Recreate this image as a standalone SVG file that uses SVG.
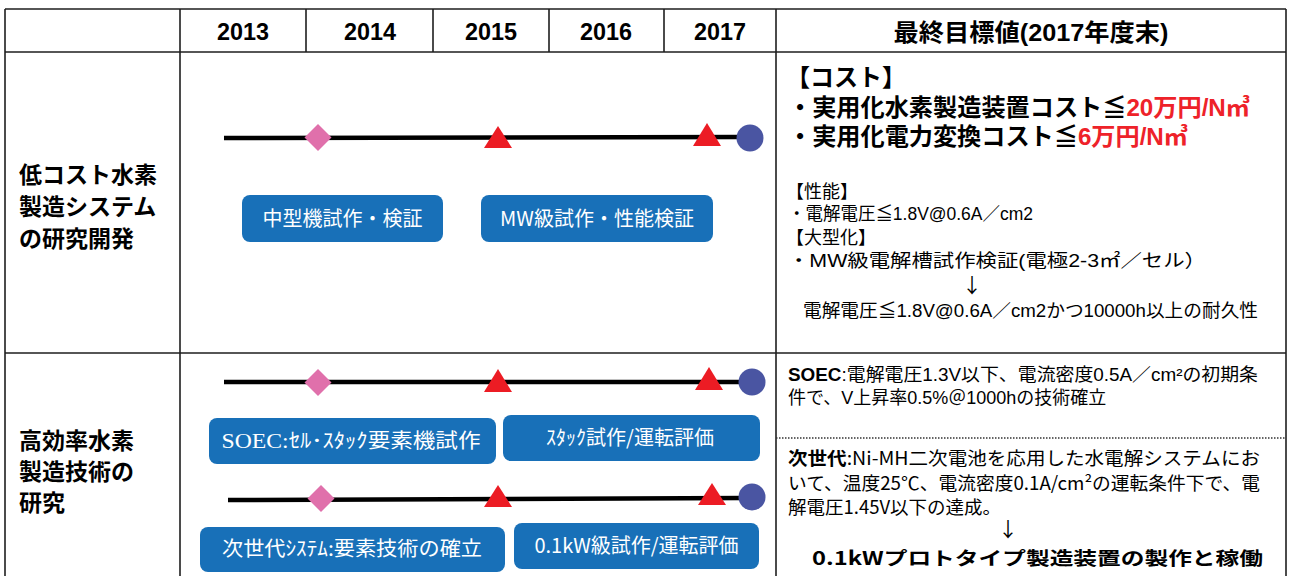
<svg xmlns="http://www.w3.org/2000/svg" width="1290" height="576" viewBox="0 0 1290 576">
  <defs>
    <style>
      .grid { stroke: #1e1e1e; stroke-width: 1.6; fill: none; }
      .hdr { font-family: "Liberation Sans", "Noto Sans CJK JP", sans-serif; font-weight: bold; font-size: 24px; fill: #000; text-anchor: middle; }
      .rowlbl { font-family: "Noto Sans CJK JP", sans-serif; font-weight: bold; font-size: 23px; fill: #000; }
      .tl { stroke: #000; stroke-width: 4.5; fill: none; }
      .dia { fill: #e070ab; }
      .tri { fill: #ec1c24; }
      .end { fill: #4a55a2; }
      .box { fill: #1870b8; }
      .btxt { font-family: "Noto Sans CJK JP", sans-serif; font-size: 20px; fill: #fff; text-anchor: middle; }
      .goal1 { font-family: "Liberation Sans", "Noto Sans CJK JP", sans-serif; font-weight: bold; font-size: 24px; fill: #000; }
      .red { fill: #ee2229; }
      .goal2 { font-family: "Liberation Sans", "Noto Sans CJK JP", sans-serif; font-size: 18px; fill: #000; }
      .goal3 { font-family: "Noto Sans CJK JP", sans-serif; font-size: 18.5px; fill: #000; }
      .arrow { font-family: "Noto Sans CJK JP", sans-serif; font-size: 20px; fill: #000; text-anchor: middle; }
      .b { font-weight: bold; }
    </style>
  </defs>
  <rect width="1290" height="576" fill="#fff"/>

  <g id="table">
    <line class="grid" x1="5" y1="9" x2="1286" y2="9"/>
    <line class="grid" x1="5" y1="52" x2="1286" y2="52"/>
    <line class="grid" x1="5" y1="353" x2="1286" y2="353" stroke="#444" stroke-width="2.2"/>
    <line class="grid" x1="5" y1="9" x2="5" y2="576"/>
    <line class="grid" x1="180" y1="9" x2="180" y2="576"/>
    <line class="grid" x1="776" y1="9" x2="776" y2="576"/>
    <line class="grid" x1="1286" y1="9" x2="1286" y2="576"/>
    <line class="grid" x1="306" y1="9" x2="306" y2="52"/>
    <line class="grid" x1="433" y1="9" x2="433" y2="52"/>
    <line class="grid" x1="549" y1="9" x2="549" y2="52"/>
    <line class="grid" x1="664" y1="9" x2="664" y2="52"/>
    <line x1="776" y1="438" x2="1286" y2="438" stroke="#333" stroke-width="1.3" stroke-dasharray="1.5 1.5"/>
  </g>

  <g id="header">
    <text class="hdr" x="243" y="40" textLength="52" lengthAdjust="spacingAndGlyphs">2013</text>
    <text class="hdr" x="370" y="40" textLength="52" lengthAdjust="spacingAndGlyphs">2014</text>
    <text class="hdr" x="491" y="40" textLength="52" lengthAdjust="spacingAndGlyphs">2015</text>
    <text class="hdr" x="606" y="40" textLength="52" lengthAdjust="spacingAndGlyphs">2016</text>
    <text class="hdr" x="720" y="40" textLength="52" lengthAdjust="spacingAndGlyphs">2017</text>
    <text class="hdr" x="1031" y="41" textLength="275" lengthAdjust="spacingAndGlyphs">最終目標値(2017年度末)</text>
  </g>

  <g id="row1-label">
    <text class="rowlbl" x="19" y="183">低コスト水素</text>
    <text class="rowlbl" x="19" y="215">製造システム</text>
    <text class="rowlbl" x="19" y="247">の研究開発</text>
  </g>

  <g id="row2-label">
    <text class="rowlbl" x="19" y="449">高効率水素</text>
    <text class="rowlbl" x="19" y="480">製造技術の</text>
    <text class="rowlbl" x="19" y="511">研究</text>
  </g>

  <g id="connectors">
    <line class="tl" x1="224" y1="138" x2="742" y2="137"/>
    <line class="tl" x1="224" y1="382" x2="744" y2="382"/>
    <line class="tl" x1="228" y1="500" x2="744" y2="498"/>
  </g>

  <g id="milestones-row1">
    <polygon class="dia" points="318,124 331.5,137.5 318,151 304.5,137.5"/>
    <polygon class="tri" points="498,126 512,148 484,148"/>
    <polygon class="tri" points="707,123 721,146 693,146"/>
    <circle class="end" cx="750" cy="138" r="13.5"/>
  </g>

  <g id="milestones-row2a">
    <polygon class="dia" points="318,369 331.5,382.5 318,396 304.5,382.5"/>
    <polygon class="tri" points="498,369 512,392 484,392"/>
    <polygon class="tri" points="709,367 723,390 695,390"/>
    <circle class="end" cx="752" cy="382" r="13.5"/>
  </g>

  <g id="milestones-row2b">
    <polygon class="dia" points="321,485 334.5,498.5 321,512 307.5,498.5"/>
    <polygon class="tri" points="498,485 512,507 484,507"/>
    <polygon class="tri" points="712,483 726,505 698,505"/>
    <circle class="end" cx="752" cy="497" r="13.5"/>
  </g>

  <g id="box-chugata">
    <rect class="box" x="242" y="195" width="201" height="47" rx="8"/>
    <text class="btxt" x="342.5" y="226">中型機試作・検証</text>
  </g>
  <g id="box-mw">
    <rect class="box" x="481" y="195" width="232" height="47" rx="8"/>
    <text class="btxt" x="597" y="226">MW級試作・性能検証</text>
  </g>
  <g id="box-soec">
    <rect class="box" x="209" y="418" width="287" height="46" rx="8"/>
    <text class="btxt" x="351" y="448" textLength="259" lengthAdjust="spacingAndGlyphs"><tspan font-family="Liberation Serif, serif" font-size="21">SOEC:</tspan>ｾﾙ･ｽﾀｯｸ要素機試作</text>
  </g>
  <g id="box-stack">
    <rect class="box" x="503" y="415" width="257" height="46" rx="8"/>
    <text class="btxt" x="630" y="445" font-size="21">ｽﾀｯｸ試作/運転評価</text>
  </g>
  <g id="box-nextgen">
    <rect class="box" x="200" y="527" width="305" height="45" rx="8"/>
    <text class="btxt" x="352" y="556" textLength="260" lengthAdjust="spacingAndGlyphs">次世代ｼｽﾃﾑ:要素技術の確立</text>
  </g>
  <g id="box-01kw">
    <rect class="box" x="514" y="523" width="245" height="46" rx="8"/>
    <text class="btxt" x="636.5" y="553">0.1kW級試作/運転評価</text>
  </g>

  <g id="goal-row1">
    <text class="goal1" x="786" y="86">【コスト】</text>
    <text class="goal1" x="788" y="116" textLength="462" lengthAdjust="spacingAndGlyphs">・実用化水素製造装置コスト≦<tspan class="red">20万円/N㎥</tspan></text>
    <text class="goal1" x="788" y="145" textLength="400" lengthAdjust="spacingAndGlyphs">・実用化電力変換コスト≦<tspan class="red">6万円/N㎥</tspan></text>
    <text class="goal2" x="786" y="198">【性能】</text>
    <text class="goal2" x="788" y="220" textLength="245" lengthAdjust="spacingAndGlyphs">・電解電圧≦1.8V@0.6A／cm2</text>
    <text class="goal2" x="786" y="244">【大型化】</text>
    <text class="goal2" x="788" y="267" textLength="418" lengthAdjust="spacingAndGlyphs">・MW級電解槽試作検証(電極2-3㎡／セル）</text>
    <text class="arrow" x="972" y="293">↓</text>
    <text class="goal2" x="803" y="317" textLength="455" lengthAdjust="spacingAndGlyphs">電解電圧≦1.8V@0.6A／cm2かつ10000h以上の耐久性</text>
  </g>

  <g id="goal-row2-soec">
    <text class="goal2" x="788" y="381" font-size="17.5" textLength="470" lengthAdjust="spacingAndGlyphs"><tspan class="b">SOEC</tspan>:電解電圧1.3V以下、電流密度0.5A／cm²の初期条</text>
    <text class="goal2" x="788" y="404" font-size="17.5">件で、V上昇率0.5%＠1000hの技術確立</text>
  </g>

  <g id="goal-row2-nextgen">
    <text class="goal3" x="788" y="465" textLength="472" lengthAdjust="spacingAndGlyphs"><tspan class="b">次世代</tspan>:Ni-MH二次電池を応用した水電解システムにお</text>
    <text class="goal3" x="788" y="490" textLength="472" lengthAdjust="spacingAndGlyphs">いて、温度25℃、電流密度0.1A/cm²の運転条件下で、電</text>
    <text class="goal3" x="788" y="514">解電圧1.45V以下の達成。</text>
    <text class="arrow" x="1008" y="537">↓</text>
    <text class="goal3 b" x="812" y="565" font-size="23" textLength="451" lengthAdjust="spacingAndGlyphs">0.1kWプロトタイプ製造装置の製作と稼働</text>
  </g>
</svg>
